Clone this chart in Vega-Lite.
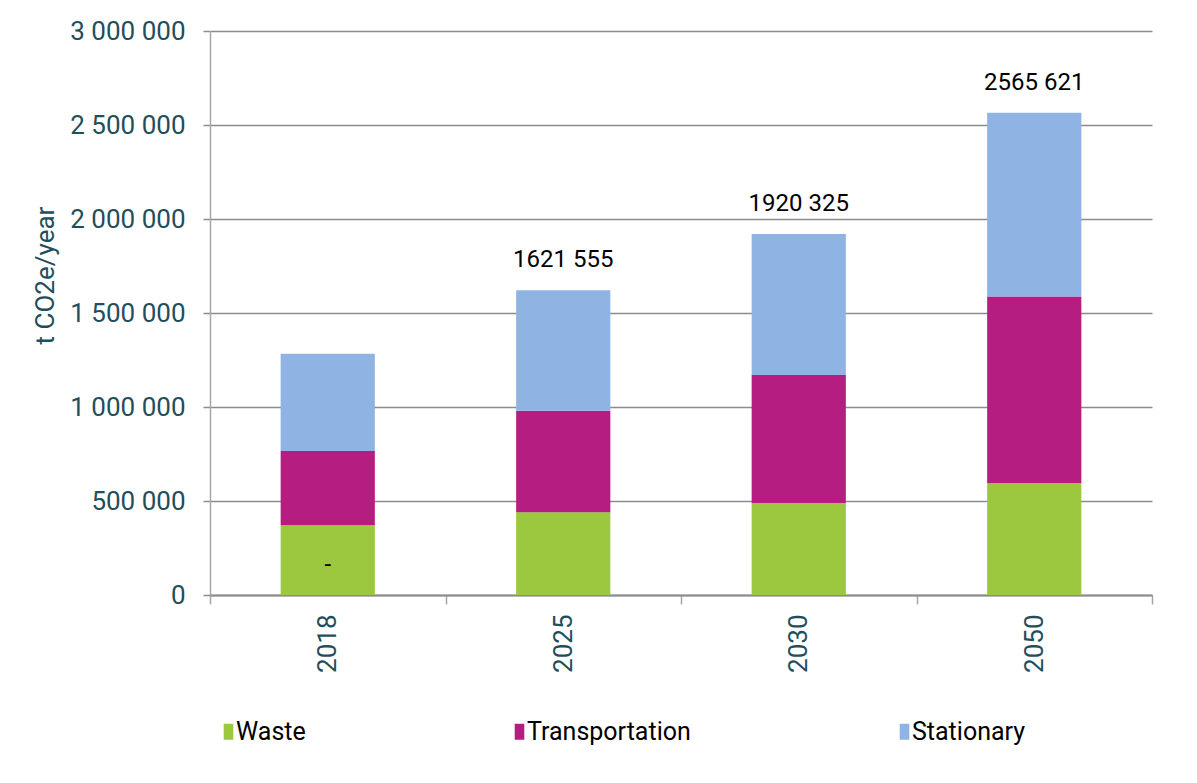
{
  "$schema": "https://vega.github.io/schema/vega-lite/v6.json",
  "width": 942,
  "height": 564,
  "autosize": "none",
  "padding": {"left": 210, "top": 31, "right": 45, "bottom": 188},
  "background": "white",
  "config": {"font": "Roboto", "view": {"stroke": null}},
  "datasets": {
    "emis": [
      {"year": "2018", "sector": "Waste", "value": 371000},
      {"year": "2018", "sector": "Transportation", "value": 395000},
      {"year": "2018", "sector": "Stationary", "value": 517000},
      {"year": "2025", "sector": "Waste", "value": 440000},
      {"year": "2025", "sector": "Transportation", "value": 540000},
      {"year": "2025", "sector": "Stationary", "value": 641555},
      {"year": "2030", "sector": "Waste", "value": 490000},
      {"year": "2030", "sector": "Transportation", "value": 680000},
      {"year": "2030", "sector": "Stationary", "value": 750325},
      {"year": "2050", "sector": "Waste", "value": 595000},
      {"year": "2050", "sector": "Transportation", "value": 993000},
      {"year": "2050", "sector": "Stationary", "value": 977621}
    ],
    "totals": [
      {"year": "2018", "total": 0, "label": "-"},
      {"year": "2025", "total": 1621555, "label": "1621 555"},
      {"year": "2030", "total": 1920325, "label": "1920 325"},
      {"year": "2050", "total": 2565621, "label": "2565 621"}
    ]
  },
  "layer": [
    {
      "data": {"name": "emis"},
      "mark": {"type": "bar", "width": {"band": 0.4}},
      "encoding": {
        "x": {
          "field": "year",
          "type": "nominal",
          "scale": {"paddingInner": 0, "paddingOuter": 0},
          "axis": {
            "title": null,
            "labelAngle": -90,
            "labelFontSize": 26,
            "labelColor": "#1F4E5C",
            "labelPadding": 10,
            "tickBand": "extent",
            "tickSize": 9,
            "tickColor": "#a6a6a6",
            "tickWidth": 1.5,
            "domainColor": "#8c8c8c",
            "domainWidth": 2,
            "grid": false
          }
        },
        "y": {
          "field": "value",
          "type": "quantitative",
          "stack": "zero",
          "scale": {"domain": [0, 3000000], "nice": false},
          "axis": {
            "values": [0, 500000, 1000000, 1500000, 2000000, 2500000, 3000000],
            "labelExpr": "replace(format(datum.value, ','), regexp(',', 'g'), ' ')",
            "labelFontSize": 26,
            "labelColor": "#1F4E5C",
            "labelPadding": 18,
            "tickSize": 7,
            "tickColor": "#8c8c8c",
            "tickWidth": 1.5,
            "domainColor": "#a6a6a6",
            "domainWidth": 1.5,
            "grid": true,
            "gridColor": "#8c8c8c",
            "gridWidth": 1.5,
            "title": "t CO2e/year",
            "titleFontSize": 26,
            "titleFontWeight": "normal",
            "titleColor": "#1F4E5C",
            "titleX": -165,
            "titleY": 244,
            "titleAlign": "center",
            "titleBaseline": "middle"
          }
        },
        "color": {
          "field": "sector",
          "type": "nominal",
          "scale": {
            "domain": ["Waste", "Transportation", "Stationary"],
            "range": ["#9BC83F", "#B51E80", "#8FB3E2"]
          },
          "legend": {
            "orient": "none",
            "legendX": 6,
            "legendY": 688,
            "direction": "horizontal",
            "title": null,
            "symbolType": "M-0.6,-1H0.6V1H-0.6Z",
            "symbolSize": 256,
            "symbolStrokeWidth": 0,
            "labelFontSize": 25,
            "labelColor": "#000000",
            "labelOffset": -5,
            "labelLimit": 400,
            "columnPadding": 201,
            "padding": 0
          }
        },
        "order": {"field": "sector", "sort": "descending"}
      }
    },
    {
      "data": {"name": "totals"},
      "mark": {"type": "text", "dy": -30, "fontSize": 24, "color": "#000000", "baseline": "middle"},
      "encoding": {
        "x": {"field": "year", "type": "nominal"},
        "y": {"field": "total", "type": "quantitative"},
        "text": {"field": "label"}
      }
    }
  ]
}
